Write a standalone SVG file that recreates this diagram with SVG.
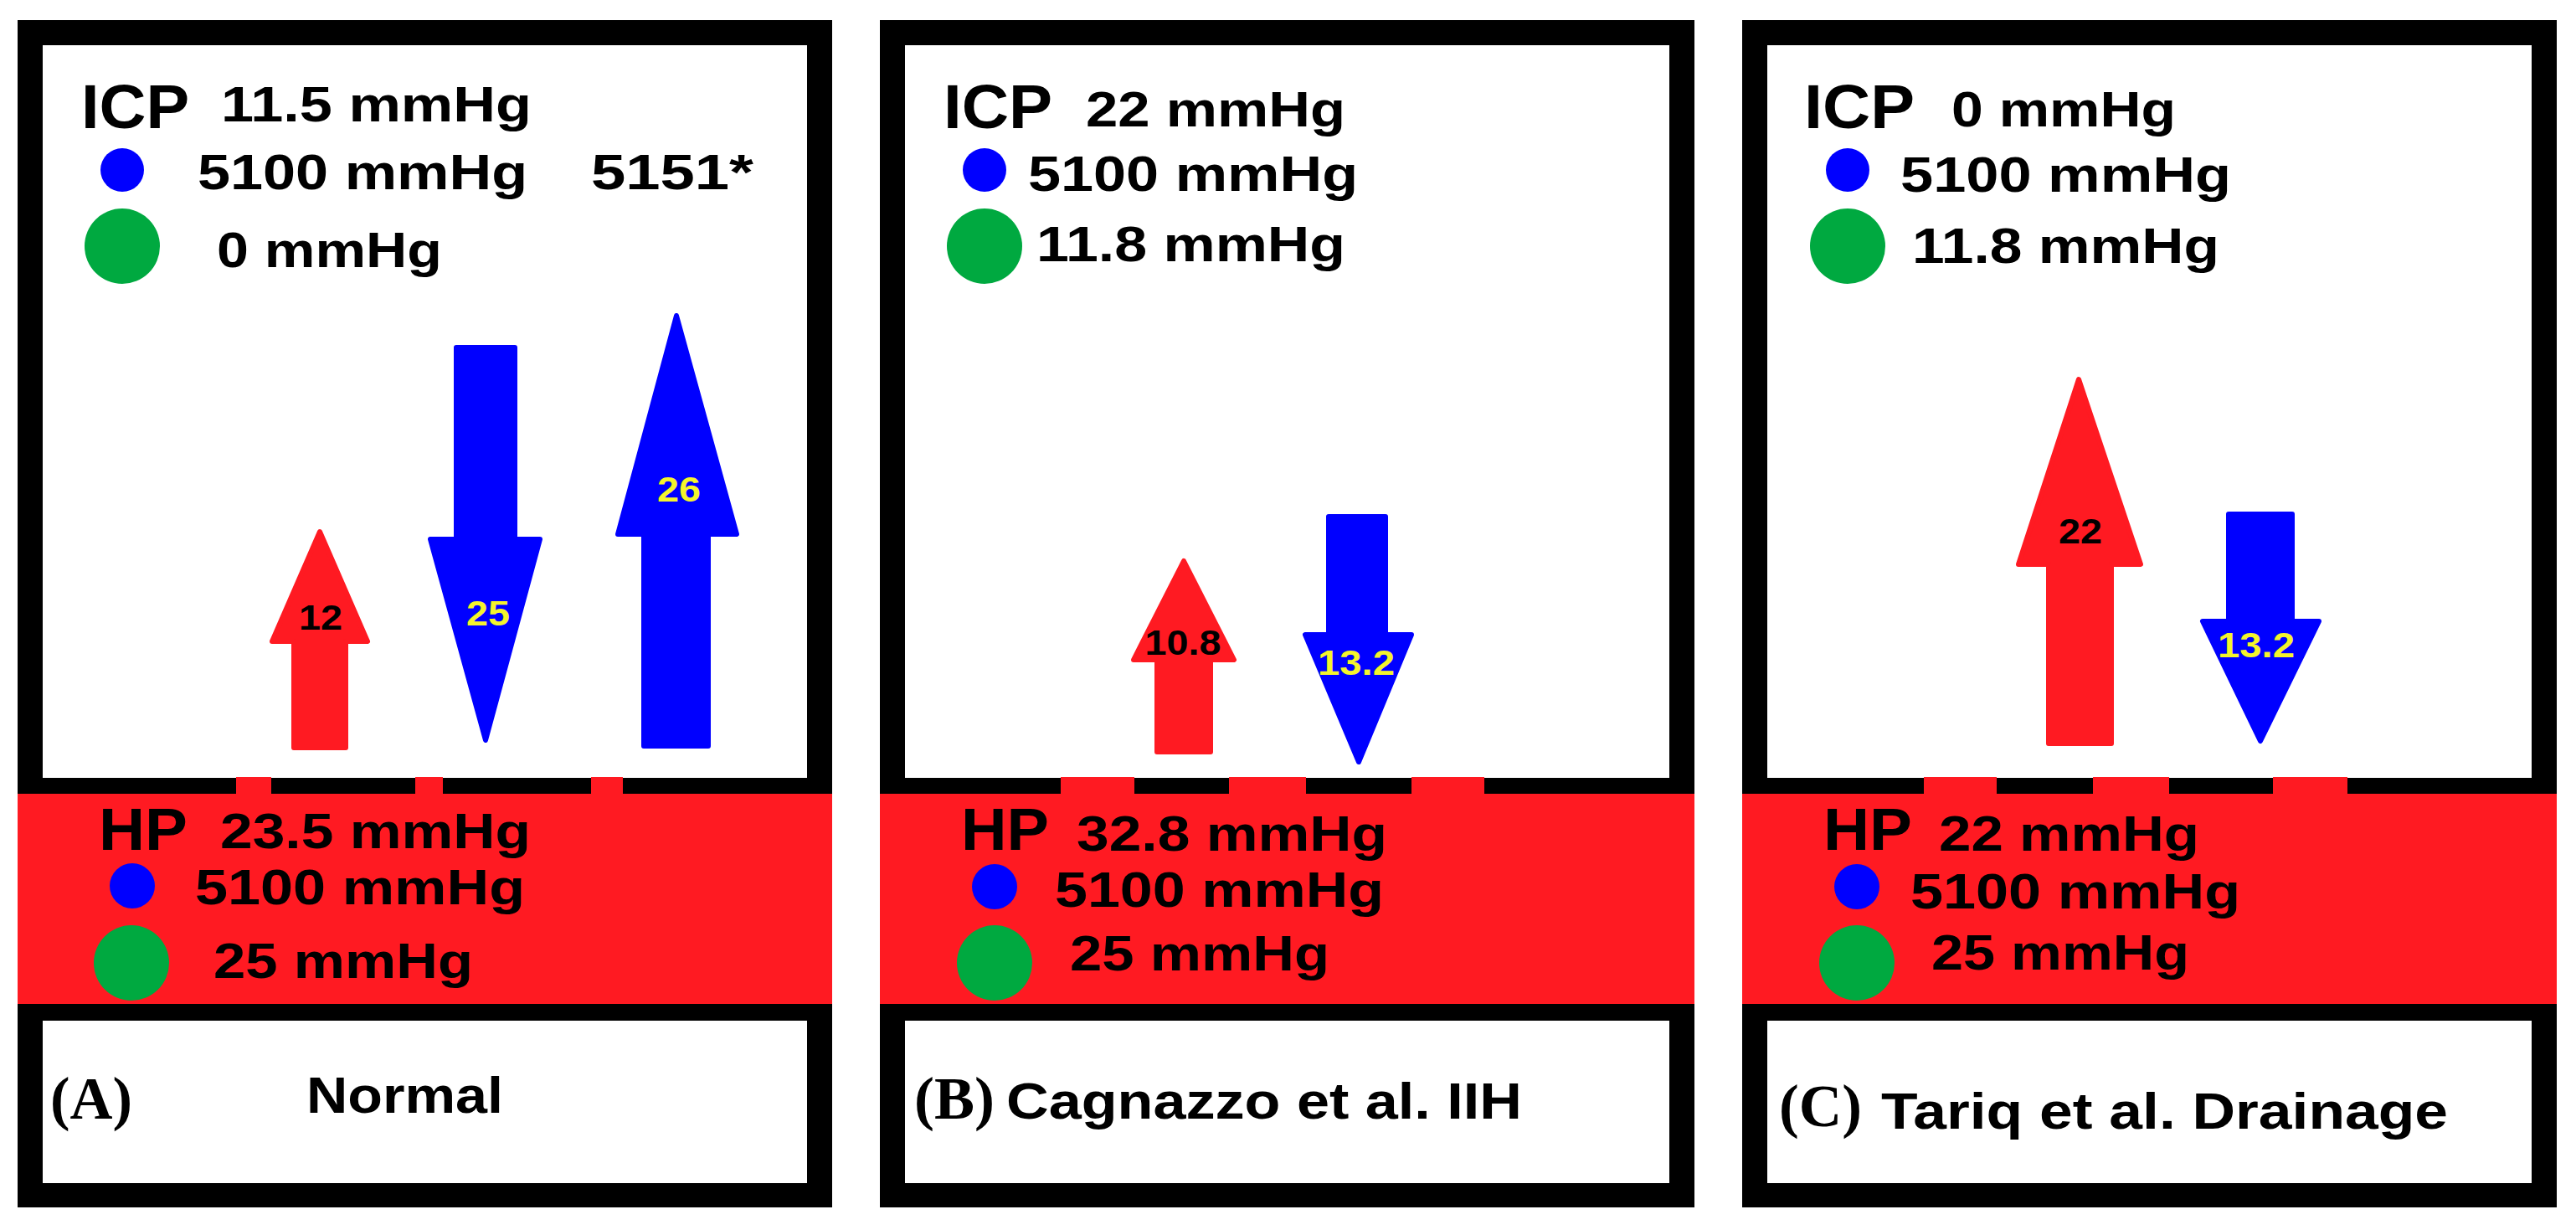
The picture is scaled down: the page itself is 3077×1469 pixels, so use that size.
<svg xmlns="http://www.w3.org/2000/svg" width="3077" height="1469" viewBox="0 0 3077 1469">
<style>
.frame{fill:#000}
.white{fill:#fff}
.band{fill:#ff1a22}
.blue{fill:#0000ff}
.green{fill:#00a940}
.t{font-family:"Liberation Sans",Arial,sans-serif;font-weight:bold;fill:#000}
.big{font-size:75px}
.hp{font-size:71px}
.num{font-size:60px}
.lab{font-size:62px}
.serif{font-family:"Liberation Serif","Times New Roman",serif;font-weight:bold;font-size:72px;fill:#000}
.al{font-family:"Liberation Sans",Arial,sans-serif;font-weight:bold;font-size:43px;text-anchor:middle}
.yl{fill:#f4f42c}
.bl{fill:#000}
.ar{stroke-width:6;stroke-linejoin:round}
.ar.r{fill:#ff1a22;stroke:#ff1a22}
.ar.b{fill:#0000ff;stroke:#0000ff}
</style>
<rect width="3077" height="1469" fill="#fff"/>

<!-- Panel A -->
<g id="panelA">
  <rect class="frame" x="21" y="24" width="973" height="1418"/>
  <rect class="white" x="51" y="54" width="913" height="875"/>
  <rect class="band" x="21" y="948" width="973" height="251"/>
  <rect class="band" x="282" y="928" width="42" height="21"/>
  <rect class="band" x="496" y="928" width="33" height="21"/>
  <rect class="band" x="706" y="928" width="38" height="21"/>
  <rect class="white" x="51" y="1219" width="913" height="194"/>
  <text class="t big" x="97" y="153" textLength="129" lengthAdjust="spacingAndGlyphs">ICP</text>
  <text class="t num" x="264" y="145" textLength="371" lengthAdjust="spacingAndGlyphs">11.5 mmHg</text>
  <circle class="blue" cx="146" cy="203" r="26"/>
  <text class="t num" x="236" y="226" textLength="394" lengthAdjust="spacingAndGlyphs">5100 mmHg</text>
  <text class="t num" x="706" y="226" textLength="194" lengthAdjust="spacingAndGlyphs">5151*</text>
  <circle class="green" cx="146" cy="294" r="45"/>
  <text class="t num" x="259" y="319" textLength="269" lengthAdjust="spacingAndGlyphs">0 mmHg</text>
  <text class="t hp" x="118" y="1015" textLength="106" lengthAdjust="spacingAndGlyphs">HP</text>
  <text class="t num" x="263" y="1013" textLength="371" lengthAdjust="spacingAndGlyphs">23.5 mmHg</text>
  <circle class="blue" cx="158" cy="1058" r="27"/>
  <text class="t num" x="233" y="1080" textLength="394" lengthAdjust="spacingAndGlyphs">5100 mmHg</text>
  <circle class="green" cx="157" cy="1150" r="45"/>
  <text class="t num" x="255" y="1168" textLength="310" lengthAdjust="spacingAndGlyphs">25 mmHg</text>
  <text class="serif" x="60" y="1336" textLength="98" lengthAdjust="spacingAndGlyphs">(A)</text>
  <text class="t lab" x="366" y="1329" textLength="235" lengthAdjust="spacingAndGlyphs">Normal</text>
  <g id="arrowsA">
    <polygon class="ar r" points="382,635 439,766 413,766 413,893 351,893 351,766 325,766"/>
    <text class="al bl" x="383" y="752" textLength="52" lengthAdjust="spacingAndGlyphs">12</text>
    <polygon class="ar b" points="545,415 615,415 615,644 645,644 580,884 514,644 545,644"/>
    <text class="al yl" x="583" y="747" textLength="52" lengthAdjust="spacingAndGlyphs">25</text>
    <polygon class="ar b" points="808,377 880,638 846,638 846,891 769,891 769,638 738,638"/>
    <text class="al yl" x="811" y="599" textLength="52" lengthAdjust="spacingAndGlyphs">26</text>
  </g>
</g>

<!-- Panel B -->
<g id="panelB">
  <rect class="frame" x="1051" y="24" width="973" height="1418"/>
  <rect class="white" x="1081" y="54" width="913" height="875"/>
  <rect class="band" x="1051" y="948" width="973" height="251"/>
  <rect class="band" x="1267" y="928" width="88" height="21"/>
  <rect class="band" x="1468" y="928" width="92" height="21"/>
  <rect class="band" x="1686" y="928" width="87" height="21"/>
  <rect class="white" x="1081" y="1219" width="913" height="194"/>
  <text class="t big" x="1127" y="153" textLength="130" lengthAdjust="spacingAndGlyphs">ICP</text>
  <text class="t num" x="1297" y="151" textLength="310" lengthAdjust="spacingAndGlyphs">22 mmHg</text>
  <circle class="blue" cx="1176" cy="203" r="26"/>
  <text class="t num" x="1228" y="228" textLength="394" lengthAdjust="spacingAndGlyphs">5100 mmHg</text>
  <circle class="green" cx="1176" cy="294" r="45"/>
  <text class="t num" x="1238" y="312" textLength="369" lengthAdjust="spacingAndGlyphs">11.8 mmHg</text>
  <text class="t hp" x="1148" y="1015" textLength="105" lengthAdjust="spacingAndGlyphs">HP</text>
  <text class="t num" x="1286" y="1016" textLength="371" lengthAdjust="spacingAndGlyphs">32.8 mmHg</text>
  <circle class="blue" cx="1188" cy="1059" r="27"/>
  <text class="t num" x="1260" y="1083" textLength="393" lengthAdjust="spacingAndGlyphs">5100 mmHg</text>
  <circle class="green" cx="1188" cy="1150" r="45"/>
  <text class="t num" x="1278" y="1159" textLength="310" lengthAdjust="spacingAndGlyphs">25 mmHg</text>
  <text class="serif" x="1092" y="1336" textLength="96" lengthAdjust="spacingAndGlyphs">(B)</text>
  <text class="t lab" x="1202" y="1336" textLength="616" lengthAdjust="spacingAndGlyphs">Cagnazzo et al. IIH</text>
  <g id="arrowsB">
    <polygon class="ar r" points="1414,670 1474,788 1446,788 1446,898 1382,898 1382,788 1354,788"/>
    <text class="al bl" x="1413" y="782" textLength="91" lengthAdjust="spacingAndGlyphs">10.8</text>
    <polygon class="ar b" points="1587,617 1655,617 1655,758 1686,758 1623,910 1559,758 1587,758"/>
    <text class="al yl" x="1620" y="806" textLength="92" lengthAdjust="spacingAndGlyphs">13.2</text>
  </g>
</g>

<!-- Panel C -->
<g id="panelC">
  <rect class="frame" x="2081" y="24" width="973" height="1418"/>
  <rect class="white" x="2111" y="54" width="913" height="875"/>
  <rect class="band" x="2081" y="948" width="973" height="251"/>
  <rect class="band" x="2298" y="928" width="87" height="21"/>
  <rect class="band" x="2500" y="928" width="91" height="21"/>
  <rect class="band" x="2715" y="928" width="89" height="21"/>
  <rect class="white" x="2111" y="1219" width="913" height="194"/>
  <text class="t big" x="2155" y="153" textLength="132" lengthAdjust="spacingAndGlyphs">ICP</text>
  <text class="t num" x="2331" y="151" textLength="268" lengthAdjust="spacingAndGlyphs">0 mmHg</text>
  <circle class="blue" cx="2207" cy="203" r="26"/>
  <text class="t num" x="2270" y="229" textLength="395" lengthAdjust="spacingAndGlyphs">5100 mmHg</text>
  <circle class="green" cx="2207" cy="294" r="45"/>
  <text class="t num" x="2284" y="314" textLength="367" lengthAdjust="spacingAndGlyphs">11.8 mmHg</text>
  <text class="t hp" x="2178" y="1015" textLength="106" lengthAdjust="spacingAndGlyphs">HP</text>
  <text class="t num" x="2316" y="1016" textLength="311" lengthAdjust="spacingAndGlyphs">22 mmHg</text>
  <circle class="blue" cx="2218" cy="1059" r="27"/>
  <text class="t num" x="2282" y="1085" textLength="394" lengthAdjust="spacingAndGlyphs">5100 mmHg</text>
  <circle class="green" cx="2218" cy="1150" r="45"/>
  <text class="t num" x="2307" y="1158" textLength="308" lengthAdjust="spacingAndGlyphs">25 mmHg</text>
  <text class="serif" x="2125" y="1345" textLength="99" lengthAdjust="spacingAndGlyphs">(C)</text>
  <text class="t lab" x="2247" y="1348" textLength="677" lengthAdjust="spacingAndGlyphs">Tariq et al. Drainage</text>
  <g id="arrowsC">
    <polygon class="ar r" points="2483,453 2557,674 2522,674 2522,888 2447,888 2447,674 2411,674"/>
    <text class="al bl" x="2485" y="649" textLength="52" lengthAdjust="spacingAndGlyphs">22</text>
    <polygon class="ar b" points="2662,614 2738,614 2738,742 2770,742 2700,885 2631,742 2662,742"/>
    <text class="al yl" x="2695" y="785" textLength="92" lengthAdjust="spacingAndGlyphs">13.2</text>
  </g>
</g>
</svg>
